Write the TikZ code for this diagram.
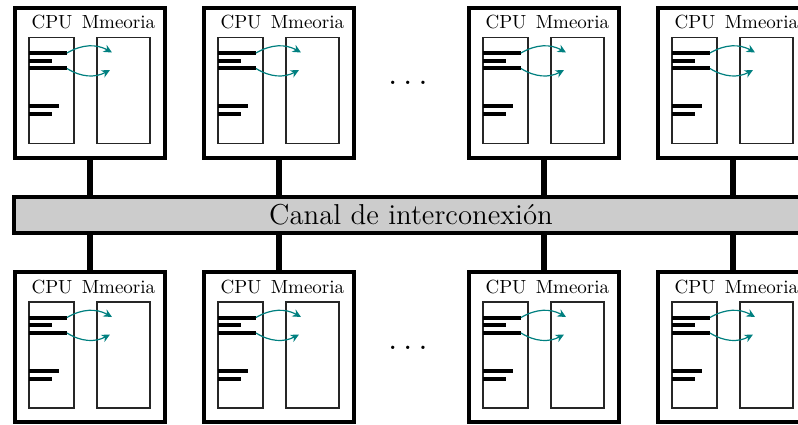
\documentclass[tikz,border=0pt]{standalone}
\usetikzlibrary{arrows.meta}

\tikzset{
  machinebox/.style={draw, line width=2pt, minimum width=75pt, minimum height=75pt,
    inner sep=0pt, outer sep=0pt, fill=white},
  unitbox/.style={draw=black!85, line width=0.6pt},
  regbar/.style={line width=2pt},
  flow/.style={draw=teal, line width=0.6pt, -{Stealth[length=4.2pt,width=4pt]}},
  unitlabel/.style={font=\fontsize{9.5}{11}\selectfont, anchor=base, inner sep=0pt},
  link/.style={line width=2.6pt},
  channel/.style={draw, line width=2pt, fill=black!20, minimum width=397pt,
    minimum height=18pt, inner sep=0pt, outer sep=0pt, font=\Large},
  ellipsis/.style={font=\LARGE, anchor=base, inner sep=0pt},
  % one processing element: outer frame, CPU and memory units, registers, transfers
  pics/machine/.style={code={
    \node[machinebox] (-box) at (0,75) {};
    \node[unitlabel] (-cpu) at (-38,21) {CPU};
    \node[unitlabel] (-mem) at (28.5,21) {Mmeoria};
    \draw[unitbox] (-61,30) rectangle (-16,136);
    \draw[unitbox] (7,30) rectangle (60,136);
    \draw[regbar] (-61,45.7) -- (-23,45.7);
    \draw[regbar] (-61,53.3) -- (-38,53.3);
    \draw[regbar] (-61,60.8) -- (-23,60.8);
    \draw[regbar] (-61,98.5) -- (-31,98.5);
    \draw[regbar] (-61,106.5) -- (-38,106.5);
    \coordinate (-r1) at (-23,45.5);
    \coordinate (-m1) at (22,45);
    \coordinate (-r2) at (-23,61);
    \coordinate (-m2) at (20,62.5);
    \draw[flow] (-r1) to[bend left=30] (-m1);
    \draw[flow] (-r2) to[bend right=30] (-m2);
  }}
}

\begin{document}
\begin{tikzpicture}[x=0.5pt, y=-0.5pt]
  \useasboundingbox[fill=white] (0,0) rectangle (798,424);

  % interconnection channel
  \node[channel] (canal) at (411,215) {Canal de interconexión};

  % upper row
  \pic (t1) at (90,7.5) {machine};
  \pic (t2) at (279,7.5) {machine};
  \pic (t3) at (544,7.5) {machine};
  \pic (t4) at (733,7.5) {machine};

  % lower row
  \pic (b1) at (90,272) {machine};
  \pic (b2) at (279,272) {machine};
  \pic (b3) at (544,272) {machine};
  \pic (b4) at (733,272) {machine};

  % links to the channel
  \foreach \m in {t1,t2,t3,t4}
    \draw[link] (\m-box.south) -- (\m-box.south |- canal.north);
  \foreach \m in {b1,b2,b3,b4}
    \draw[link] (\m-box.north) -- (\m-box.north |- canal.south);

  % omitted elements
  \node[ellipsis] (dotsT) at (408,84) {$\ldots$};
  \node[ellipsis] (dotsB) at (408,349) {$\ldots$};
\end{tikzpicture}
\end{document}
